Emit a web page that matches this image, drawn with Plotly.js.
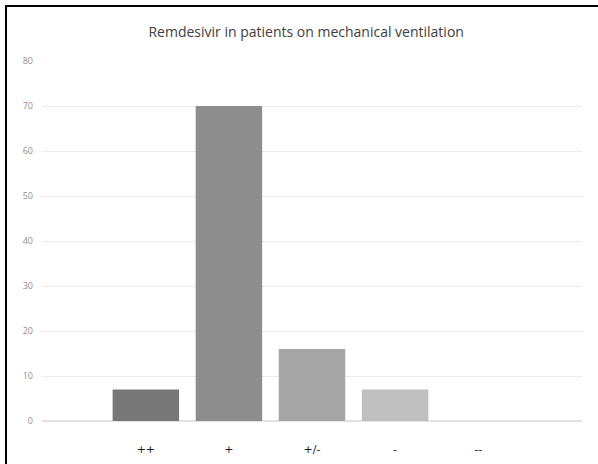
<!DOCTYPE html>
<html><head><meta charset="utf-8">
<script src="https://cdn.plot.ly/plotly-3.0.1.min.js"></script>
<style>
html,body{margin:0;padding:0;background:#fff;}
#chart{position:absolute;left:0;top:0;width:598px;height:464px;}
#frame{position:absolute;left:5px;top:5px;width:600px;height:470px;border-top:2px solid #000;border-left:2px solid #000;pointer-events:none;}
</style></head>
<body>
<div id="chart"></div>
<div id="frame"></div>
<script>
const categories = ["++", "+", "+/-", "-", "--"];
const values = [7, 70, 16, 7, 0];
const barColors = ["#777777", "#8d8d8d", "#a5a5a5", "#bfbfbf", "#d0d0d0"];
const yTicks = [0, 10, 20, 30, 40, 50, 60, 70, 80];

const trace = {
  type: "bar",
  x: categories,
  y: values,
  width: 0.8,
  marker: {color: barColors, line: {width: 0}},
  hoverinfo: "x+y"
};

const layout = {
  width: 598, height: 464,
  margin: {l: 42, r: 16, t: 61, b: 43},
  paper_bgcolor: "#ffffff", plot_bgcolor: "#ffffff",
  title: {text: "Remdesivir in patients on mechanical ventilation",
          font: {family: "Open Sans, sans-serif", size: 14, color: "#404040"},
          x: 0.512, xanchor: "center", y: 0.931, yanchor: "middle"},
  showlegend: false,
  bargap: 0.2,
  xaxis: {
    type: "category",
    range: [-1.25, 5.25],
    showgrid: false, zeroline: false, showline: false,
    ticks: "", ticklen: 0, ticklabelstandoff: 20,
    tickfont: {family: "DejaVu Sans, sans-serif", size: 11, color: "#1a1a1a"},
    tickangle: 0
  },
  yaxis: {
    range: [0, 80],
    tickvals: yTicks,
    ticktext: yTicks.map(String),
    showgrid: true, gridcolor: "#ececec", gridwidth: 1,
    zeroline: true, zerolinecolor: "#e3e3e3", zerolinewidth: 1.5,
    showline: false,
    ticks: "", ticklabelstandoff: 8,
    tickfont: {family: "Open Sans, sans-serif", size: 9, color: "#8f8f8f"}
  }
};

Plotly.newPlot("chart", [trace], layout, {displayModeBar: false, staticPlot: true});
</script>
</body></html>
